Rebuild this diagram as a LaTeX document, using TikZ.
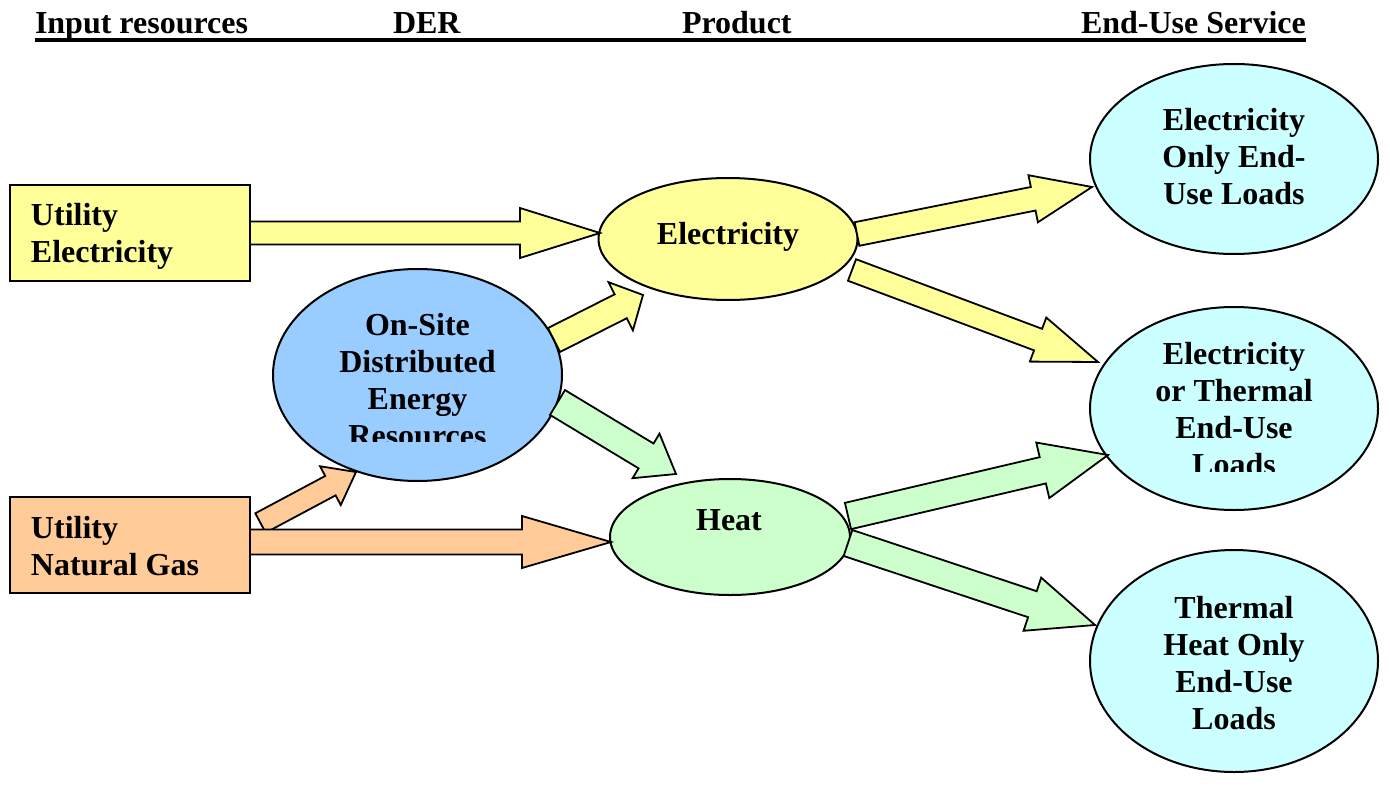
\documentclass[tikz,border=0pt]{standalone}
\usepackage{fontspec}
\setmainfont{Liberation Serif}
\usetikzlibrary{calc,shapes.geometric}

\definecolor{elecY}{HTML}{FFFF99}
\definecolor{gasO}{HTML}{FFCC99}
\definecolor{derB}{HTML}{99CCFF}
\definecolor{heatG}{HTML}{CCFFCC}
\definecolor{useC}{HTML}{CCFFFF}

% stacked lines whose reference point is the first baseline
\newcommand\stack[2]{\begin{tabular}[t]{@{}#1@{}}#2\end{tabular}}

% block arrow: #1 tail, #2 tip, #3 fill, #4 half shaft, #5 half head, #6 head length
\newcommand\fatarrow[6]{%
  \path ($(#2)!#6!(#1)$) coordinate (fa-h);
  \draw[flow,fill=#3]
    ($(#1)!#4!90:(#2)$) -- ($(fa-h)!#4!90:(#2)$) -- ($(fa-h)!#5!90:(#2)$)
    -- (#2) -- ($(fa-h)!#5!-90:(#2)$) -- ($(fa-h)!#4!-90:(#2)$)
    -- ($(#1)!#4!-90:(#2)$) -- cycle;}

\begin{document}
\begin{tikzpicture}[x=0.5pt,y=-0.5pt,
  every node/.style={inner sep=0pt,outer sep=0pt},
  txt/.style={font=\fontsize{16}{18.5}\selectfont\bfseries},
  box/.style={draw,line width=1pt,minimum width=120pt,minimum height=48pt},
  oval/.style={draw,line width=1pt,ellipse},
  flow/.style={draw,line width=0.9pt,line join=miter}]

\useasboundingbox (0,0) rectangle (1390,786);

% column headings
\node[txt,anchor=base west] (hin)  at (35,34)   {Input resources};
\node[txt,anchor=base west] (hder) at (393,34)  {DER};
\node[txt,anchor=base west] (hpro) at (682,34)  {Product};
\node[txt,anchor=base west] (hend) at (1081,34) {End-Use Service};
\draw[line width=2pt] ($(hin.base west)+(0,6)$) -- ($(hend.base east)+(0,6)$);

% nodes
\node[box,fill=elecY] (uelec) at (130,233) {};
\node[box,fill=gasO]  (ung)   at (130,545) {};
\node[oval,fill=derB,minimum width=144.5pt,minimum height=106pt] (der) at (417.5,375) {};
\node[oval,fill=elecY,minimum width=129.5pt,minimum height=61pt] (elec) at (728,239) {};
\node[oval,fill=heatG,minimum width=120pt,minimum height=58pt] (heat) at (730,537) {};
\node[oval,fill=useC,minimum width=144pt,minimum height=95pt]  (eu1) at (1234,159) {};
\node[oval,fill=useC,minimum width=144pt,minimum height=101.5pt] (eu2) at (1234,408.5) {};
\node[oval,fill=useC,minimum width=144pt,minimum height=111pt] (eu3) at (1234,661) {};

% arrow end points on the nodes
\coordinate (a1s) at (uelec.east);
\coordinate (a1t) at ($(elec.center)+(-128,-6)$);
\coordinate (a2s) at ($(ung.east)+(0,-3)$);
\coordinate (a2t) at ($(heat.center)+(-119,5)$);
\coordinate (a3s) at ($(ung.east)+(10.5,-22)$);
\coordinate (a3t) at ($(der.center)+(-61.5,97)$);
\coordinate (a4s) at ($(der.center)+(136.5,-35)$);
\coordinate (a4t) at ($(elec.center)+(-85,56)$);
\coordinate (a5s) at ($(der.center)+(140,27.5)$);
\coordinate (a5t) at ($(heat.center)+(-54,-63)$);
\coordinate (a6s) at ($(elec.center)+(129,-5)$);
\coordinate (a6t) at ($(eu1.center)+(-142,28)$);
\coordinate (a7s) at ($(elec.center)+(124,31)$);
\coordinate (a7t) at ($(eu2.center)+(-136,-46.5)$);
\coordinate (a8s) at ($(heat.center)+(118,-21)$);
\coordinate (a8t) at ($(eu2.center)+(-126,46.5)$);
\coordinate (a9s) at ($(heat.center)+(118,6)$);
\coordinate (a9t) at ($(eu3.center)+(-139,-36)$);

% flows
\fatarrow{a3s}{a3t}{gasO}{5.5pt}{11pt}{14.5pt}
\node[box,fill=gasO] at (ung) {};
\fatarrow{a1s}{a1t}{elecY}{5.75pt}{12.5pt}{40pt}
\fatarrow{a2s}{a2t}{gasO}{6.25pt}{13pt}{44.5pt}
\fatarrow{a4s}{a4t}{elecY}{6.7pt}{13.5pt}{12.5pt}
\fatarrow{a5s}{a5t}{heatG}{7.25pt}{13pt}{17.5pt}
\fatarrow{a6s}{a6t}{elecY}{6pt}{12pt}{30pt}
\fatarrow{a7s}{a7t}{elecY}{5.75pt}{11.75pt}{32pt}
\fatarrow{a8s}{a8t}{heatG}{6.75pt}{14.25pt}{33.5pt}
\fatarrow{a9s}{a9t}{heatG}{6.85pt}{14pt}{33pt}

% labels
\node[txt,anchor=base west] (tue) at (31,226) {\stack{l}{Utility\\Electricity}};
\node[txt,anchor=base west] (tng) at (31,538) {\stack{l}{Utility\\Natural Gas}};
\begin{scope}
  \clip (0,0) rectangle (1390,441);
  \node[txt,anchor=base] (tder) at (417.5,335) {\stack{c}{On-Site\\Distributed\\Energy\\Resources}};
\end{scope}
\node[txt,anchor=base] (tel) at (728,244) {Electricity};
\node[txt,anchor=base] (tht) at (729,530) {Heat};
\node[txt,anchor=base] (teu1) at (1234,131) {\stack{c}{Electricity\\Only End-\\Use Loads}};
\begin{scope}
  \clip (0,0) rectangle (1390,471);
  \node[txt,anchor=base] (teu2) at (1234,364) {\stack{c}{Electricity\\or Thermal\\End-Use\\Loads}};
\end{scope}
\node[txt,anchor=base] (teu3) at (1234,618) {\stack{c}{Thermal\\Heat Only\\End-Use\\Loads}};
\end{tikzpicture}
\end{document}
